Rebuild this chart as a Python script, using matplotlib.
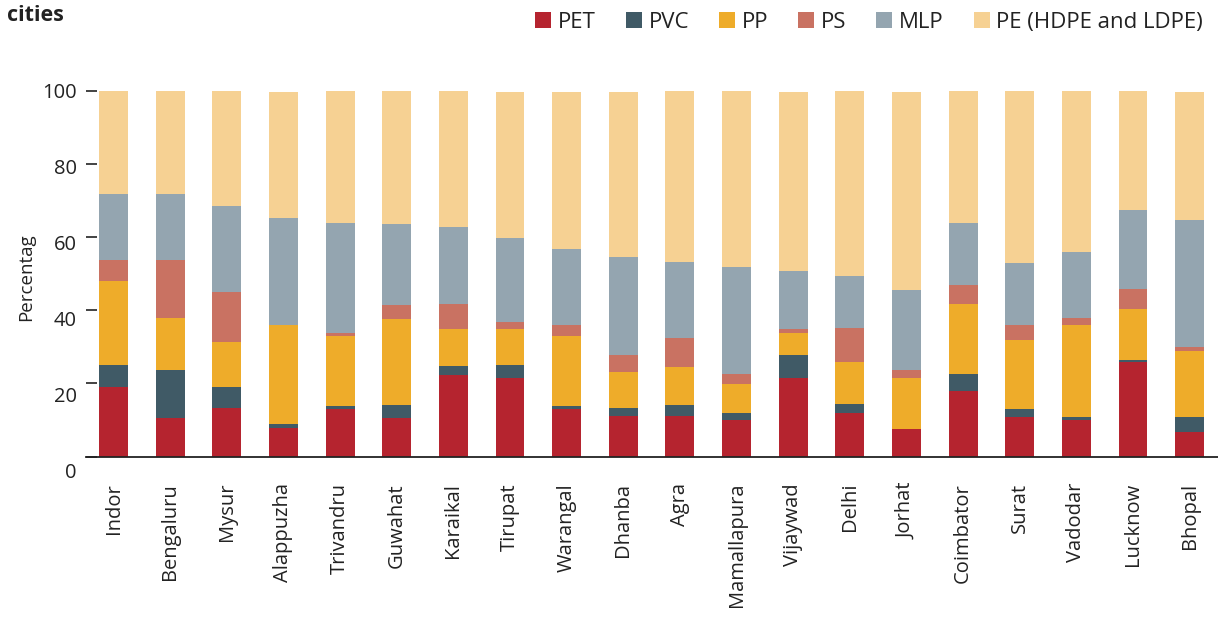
import matplotlib
matplotlib.use("Agg")
import matplotlib.pyplot as plt
import matplotlib.transforms as mtransforms
import numpy as np

plt.rcParams['font.family'] = ['Open Sans', 'DejaVu Sans']

# data (percent of each plastic type per city)
cities = ['Indor', 'Bengaluru', 'Mysur', 'Alappuzha', 'Trivandru', 'Guwahat',
          'Karaikal', 'Tirupat', 'Warangal', 'Dhanba', 'Agra', 'Mamallapura',
          'Vijaywad', 'Delhi', 'Jorhat', 'Coimbator', 'Surat', 'Vadodar',
          'Lucknow', 'Bhopal']
pet = [18.9, 10.6, 13.3, 7.9, 12.9, 10.6, 22.2, 21.6, 12.9, 11.2,
       11.2, 10.0, 21.6, 11.8, 7.4, 17.8, 10.7, 10.0, 25.8, 6.8]
pvc = [6.0, 13.2, 5.6, 0.9, 0.8, 3.6, 2.5, 3.3, 0.8, 2.0,
       3.0, 1.8, 6.3, 2.7, 0.0, 4.9, 2.2, 0.7, 0.5, 3.9]
pp = [23.0, 14.0, 12.3, 27.1, 19.2, 23.3, 10.1, 9.9, 19.2, 9.8,
      10.2, 7.9, 5.8, 11.3, 14.0, 18.9, 18.9, 25.2, 14.0, 18.1]
ps = [5.8, 15.9, 13.7, 0.0, 0.8, 3.9, 6.8, 1.9, 3.0, 4.9,
      7.9, 3.0, 1.1, 9.3, 2.4, 5.2, 4.1, 1.9, 5.5, 1.1]
mlp = [18.1, 18.1, 23.6, 29.3, 30.1, 22.2, 21.1, 23.0, 20.8, 26.6,
       20.9, 29.1, 15.9, 14.2, 21.7, 17.0, 17.0, 18.1, 21.6, 34.8]
pe = [28.2, 28.2, 31.5, 34.5, 36.2, 36.4, 37.3, 40.0, 43.0, 45.2,
      46.8, 48.2, 49.0, 50.7, 54.2, 36.2, 47.1, 44.1, 32.6, 35.0]

series = ['PET', 'PVC', 'PP', 'PS', 'MLP', 'PE (HDPE and LDPE)']
colors = ['#B5242F', '#405A66', '#EEAC2A', '#C97262', '#94A5B0', '#F6D193']
yticks = [0, 20, 40, 60, 80, 100]

fig = plt.figure(figsize=(12.18, 6.37), dpi=100)
ax = fig.add_axes([86 / 1218, 1 - 456.5 / 637, 1132 / 1218, 365.5 / 637])

x = np.arange(len(cities))
bottom = np.zeros(len(cities))
handles = []
for name, vals, col in zip(series, [pet, pvc, pp, ps, mlp, pe], colors):
    b = ax.bar(x, vals, 0.51, bottom=bottom, color=col, label=name, linewidth=0)
    handles.append(b)
    bottom += np.array(vals)

ax.set_xlim(-0.486, 19.5)
ax.set_ylim(0, 100)

for s in ['top', 'right', 'left']:
    ax.spines[s].set_visible(False)
ax.spines['bottom'].set_color('#222222')
ax.spines['bottom'].set_linewidth(1.3)

ax.set_yticks(yticks)
ax.set_yticklabels([str(v) for v in yticks])
ax.tick_params(axis='y', direction='in', length=8, width=1.2, color='#222222',
               pad=6.5, labelsize=14.5, labelcolor='#222222')
for lab in ax.get_yticklabels():
    v = float(lab.get_text())
    shift = -(100 - v) * 0.135 / 100 * 72  # labels drift down slightly
    lab.set_transform(lab.get_transform() +
                      mtransforms.ScaledTranslation(0, shift / 72, fig.dpi_scale_trans))
for t in ax.yaxis.get_major_ticks():
    t.tick1line.set_clip_on(False)

ax.set_xticks(x)
ax.set_xticklabels(cities, rotation=90, va='top', ha='center', fontsize=14.5,
                   color='#222222')
ax.tick_params(axis='x', length=0, pad=19)

fig.text(26 / 1218, 1 - 277 / 637, 'Percentag', rotation=90, fontsize=13.5,
         ha='center', va='center', color='#222222')
fig.text(7 / 1218, 1 - 5 / 637, 'cities', fontsize=15.5, fontweight='bold',
         ha='left', va='top', color='#222222')

fig.legend(handles=handles, labels=series, loc='upper right',
           bbox_to_anchor=(1212 / 1218, 1 - 3 / 637), ncol=6, frameon=False,
           fontsize=16, handlelength=0.72, handleheight=0.72,
           handletextpad=0.3, columnspacing=1.35, borderaxespad=0,
           labelcolor='#222222')

fig.savefig('out.png', dpi=100)
